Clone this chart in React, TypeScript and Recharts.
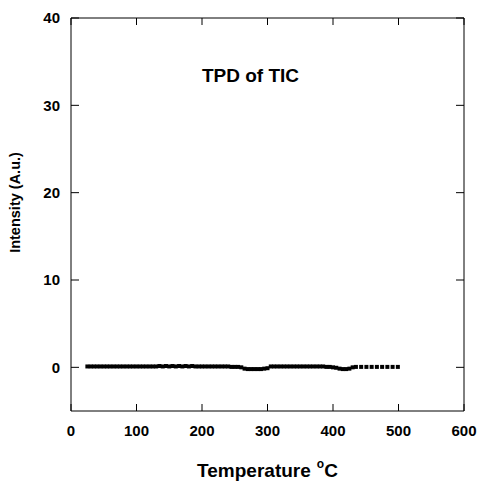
import React from 'react';
import {
  ScatterChart,
  Scatter,
  XAxis,
  YAxis,
  ReferenceDot,
} from 'recharts';

// TPD of TIC - temperature (°C) vs intensity (a.u.)
const temperatures = [
  25, 30, 35, 40, 45, 50, 55, 60, 65, 70,
  75, 80, 85, 90, 95, 100, 105, 110, 115, 120,
  125, 130, 135, 140, 145, 150, 155, 160, 165, 170,
  175, 180, 185, 190, 195, 200, 205, 210, 215, 220,
  225, 230, 235, 240, 245, 250, 255, 260, 265, 270,
  275, 280, 285, 290, 295, 300, 305, 310, 315, 320,
  325, 330, 335, 340, 345, 350, 355, 360, 365, 370,
  375, 380, 385, 390, 395, 400, 405, 410, 415, 420,
  425, 430, 435, 443, 451, 459, 467, 475, 483, 491, 499,
];

const intensities = [
  0.1, 0.1, 0.1, 0.1, 0.1, 0.1, 0.1, 0.1, 0.1, 0.1,
  0.1, 0.1, 0.1, 0.1, 0.1, 0.1, 0.1, 0.1, 0.1, 0.1,
  0.1, 0.1, 0.15, 0.1, 0.15, 0.1, 0.15, 0.1, 0.15, 0.1,
  0.15, 0.1, 0.15, 0.1, 0.1, 0.1, 0.1, 0.1, 0.1, 0.1,
  0.1, 0.1, 0.1, 0.1, 0.05, 0.05, 0.05, 0.0, -0.15, -0.2,
  -0.2, -0.2, -0.2, -0.2, -0.15, -0.1, 0.1, 0.1, 0.1, 0.1,
  0.1, 0.1, 0.1, 0.1, 0.1, 0.1, 0.1, 0.1, 0.1, 0.1,
  0.1, 0.1, 0.1, 0.05, 0.05, 0.0, -0.05, -0.15, -0.2, -0.2,
  -0.15, 0.0, 0.05, 0.05, 0.05, 0.05, 0.05, 0.05, 0.05, 0.05, 0.05,
];

const xTicks = [0, 100, 200, 300, 400, 500, 600];
const yTicks = [0, 10, 20, 30, 40];

const data = temperatures.map((t, i) => ({ temperature: t, intensity: intensities[i] }));

const tickStyle = { fontSize: 15, fontWeight: 'bold', fill: '#000' };

const SquareDot = (props: any) => {
  const { cx, cy } = props;
  if (cx == null || cy == null) return null;
  return <rect x={cx - 2} y={cy - 2} width={4} height={4} fill="#000" />;
};

const NoDot = () => null;

const XTitle = (props: any) => {
  const vb = props.viewBox || {};
  const cx = vb.x + vb.width / 2;
  return (
    <text x={cx} y={vb.y + 66} textAnchor="middle" fontSize={19} fontWeight="bold" fill="#000">
      Temperature
      <tspan dx={6} dy={-9} fontSize={12}>o</tspan>
      <tspan dy={9}>C</tspan>
    </text>
  );
};

const YTitle = (props: any) => {
  const vb = props.viewBox || {};
  const x = 20;
  const y = vb.y + vb.height / 2 - 12;
  return (
    <text
      x={x}
      y={y}
      transform={`rotate(-90, ${x}, ${y})`}
      textAnchor="middle"
      fontSize={14.5}
      fontWeight="bold"
      fill="#000"
    >
      Intensity (A.u.)
    </text>
  );
};

export default function App() {
  return (
    <div style={{ position: 'absolute', left: 0, top: 0, width: 478, height: 483, background: '#fff' }}>
      <ScatterChart
        width={478}
        height={483}
        margin={{ top: 17, right: 13, bottom: 12, left: 11 }}
        style={{ fontFamily: '"Liberation Sans", Arial, sans-serif' }}
      >
        <XAxis
          xAxisId="bottom"
          type="number"
          dataKey="temperature"
          domain={[0, 600]}
          ticks={xTicks}
          orientation="bottom"
          height={60}
          tickSize={-7}
          tickMargin={21}
          tick={tickStyle}
          stroke="#000"
          allowDataOverflow
          label={<XTitle />}
        />
        <XAxis
          xAxisId="top"
          type="number"
          dataKey="temperature"
          domain={[0, 600]}
          ticks={xTicks}
          orientation="top"
          height={1}
          tickSize={-7}
          tickFormatter={() => ''}
          stroke="#000"
          allowDataOverflow
        />
        <YAxis
          yAxisId="left"
          type="number"
          dataKey="intensity"
          domain={[-5, 40]}
          ticks={yTicks}
          orientation="left"
          width={60}
          tickSize={-8}
          tickMargin={19}
          tick={tickStyle}
          stroke="#000"
          allowDataOverflow
          label={<YTitle />}
        />
        <YAxis
          yAxisId="right"
          type="number"
          dataKey="intensity"
          domain={[-5, 40]}
          ticks={yTicks}
          orientation="right"
          width={1}
          tickSize={-8}
          tickFormatter={() => ''}
          stroke="#000"
          allowDataOverflow
        />
        <ReferenceDot
          xAxisId="bottom"
          yAxisId="left"
          x={274}
          y={33.4}
          r={0}
          fill="none"
          stroke="none"
          label={{ value: 'TPD of TIC', position: 'center', fontSize: 19, fontWeight: 'bold', fill: '#000' }}
        />
        <Scatter
          xAxisId="top"
          yAxisId="right"
          data={data}
          shape={<NoDot />}
          isAnimationActive={false}
        />
        <Scatter
          xAxisId="bottom"
          yAxisId="left"
          data={data}
          shape={<SquareDot />}
          isAnimationActive={false}
        />
      </ScatterChart>
    </div>
  );
}
